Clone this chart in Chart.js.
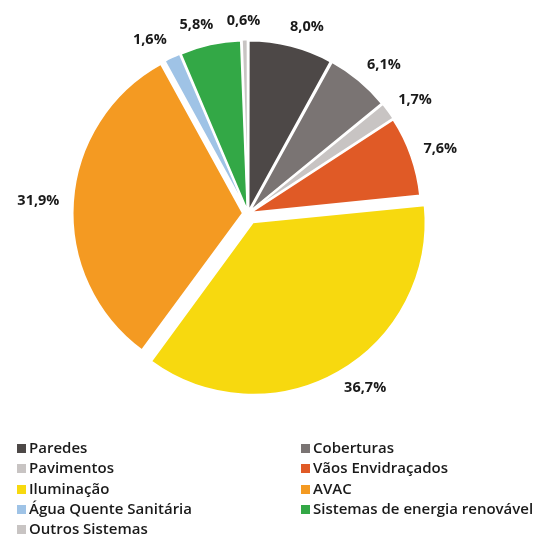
<!DOCTYPE html>
<html>
<head>
<meta charset="utf-8">
<script src="https://cdn.jsdelivr.net/npm/chart.js@4"></script>
<style>
  html, body { margin: 0; padding: 0; background: #fff; }
  #wrap { position: relative; width: 535px; height: 535px; }
  #pie { position: absolute; left: 0; top: 0; }
  #legend { position: absolute; left: 0; top: 437px; width: 535px; font-family: "Open Sans", sans-serif; font-size: 15px; font-weight: 600; color: #1a1a1a; }
  .item { position: absolute; height: 20px; line-height: 20px; white-space: nowrap; }
  .sw { display: inline-block; width: 9px; height: 9px; margin-right: 3px; vertical-align: 0px; }
</style>
</head>
<body>
<div id="wrap">
  <canvas id="pie" width="535" height="535"></canvas>
  <div id="legend"></div>
</div>
<script>
// Data
const categories = ["Paredes", "Coberturas", "Pavimentos", "Vãos Envidraçados", "Iluminação", "AVAC", "Água Quente Sanitária", "Sistemas de energia renovável", "Outros Sistemas"];
const shares = [8.0, 6.1, 1.7, 7.6, 36.7, 31.9, 1.6, 5.8, 0.6];
const colors = ["#4d4847", "#7a7473", "#c8c4c3", "#e05a26", "#f7d90f", "#f49a22", "#9fc3e6", "#33a846", "#c8c4c3"];
// chart.js moves an arc by offset/4 px
const sliceOffsets = [8, 8, 8, 8, 40, 20, 8, 8, 8];

// Percent labels outside each slice
const outsideLabels = {
  id: "outsideLabels",
  afterDatasetsDraw(chart) {
    const ctx = chart.ctx;
    const meta = chart.getDatasetMeta(0);
    ctx.save();
    ctx.font = "bold 14.5px 'Open Sans', sans-serif";
    ctx.fillStyle = "#1a1a1a";
    ctx.textAlign = "center";
    ctx.textBaseline = "middle";
    meta.data.forEach((arc, i) => {
      const p = arc.getProps(["x", "y", "startAngle", "endAngle", "outerRadius"], true);
      const mid = (p.startAngle + p.endAngle) / 2;
      const dx = Math.cos(mid), dy = Math.sin(mid);
      const r = p.outerRadius + sliceOffsets[i] / 4 + 14;
      const txt = shares[i].toFixed(1).replace(".", ",") + "%";
      const w = ctx.measureText(txt).width;
      const ax = p.x + dx * r, ay = p.y + dy * r;
      const kx = Math.max(-1, Math.min(1, dx * 3));
      ctx.fillText(txt, ax + kx * w / 2, ay + dy * 7);
    });
    ctx.restore();
  }
};

new Chart(document.getElementById("pie").getContext("2d"), {
  type: "pie",
  data: {
    labels: categories,
    datasets: [{
      data: shares,
      backgroundColor: colors,
      borderColor: "#ffffff",
      borderWidth: 2,
      offset: sliceOffsets,
    }],
  },
  options: {
    responsive: false,
    animation: false,
    radius: 170,
    layout: { padding: { left: 0, right: 39, top: 0, bottom: 108 } },
    plugins: {
      legend: { display: false },
      tooltip: { enabled: false },
    },
  },
  plugins: [outsideLabels],
});

// Legend (two columns)
const legend = document.getElementById("legend");
categories.forEach((name, i) => {
  const el = document.createElement("div");
  el.className = "item";
  el.style.left = (i % 2 === 0 ? 17 : 301) + "px";
  el.style.top = (Math.floor(i / 2) * 20.3) + "px";
  el.innerHTML = '<span class="sw" style="background:' + colors[i] + '"></span>' + name;
  legend.appendChild(el);
});
</script>
</body>
</html>
